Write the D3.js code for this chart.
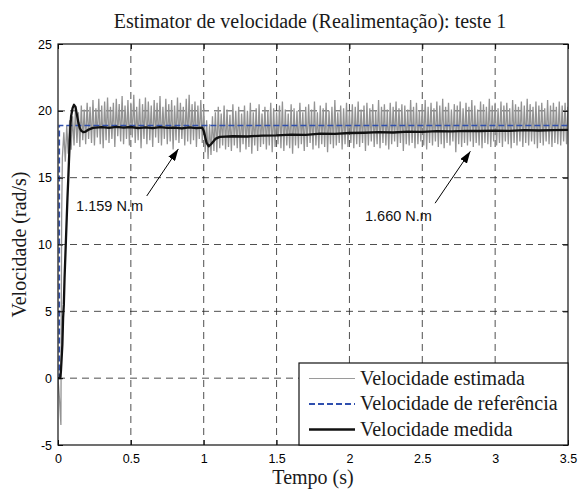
<!DOCTYPE html>
<html>
<head>
<meta charset="utf-8">
<script src="https://cdn.jsdelivr.net/npm/d3@7"></script>
<style>
  body { margin: 0; background: #fff; }
  .tick text { font-family: "Liberation Sans", Arial, sans-serif; font-size: 12.5px; fill: #000; }
  .serif { font-family: "Liberation Serif", "Times New Roman", serif; fill: #1a1a1a; }
</style>
</head>
<body>
<div id="vis"></div>
<script>
const FRAME_WIDTH = 580;
const FRAME_HEIGHT = 489;
const MARGINS = {left: 58, right: 12, top: 44, bottom: 44};

// axis ticks
const xTicks = [0, 0.5, 1, 1.5, 2, 2.5, 3, 3.5];
const yTicks = [-5, 0, 5, 10, 15, 20, 25];

// reference speed (step)
const refT = [0, 0.009, 0.009, 3.5];
const refV = [0, 0, 18.9, 18.9];

// measured speed
const medT = [0, 0.015, 0.02, 0.025, 0.03, 0.035, 0.04, 0.045, 0.05, 0.055, 0.06, 0.065, 0.07, 0.075, 0.08, 0.085,
  0.09, 0.1, 0.11, 0.12, 0.13, 0.14, 0.15, 0.16, 0.175, 0.19, 0.21, 0.24, 0.3, 0.35, 0.4, 0.45, 0.5, 0.55, 0.6, 0.65,
  0.7, 0.75, 0.8, 0.85, 0.9, 0.95, 0.99, 1.0, 1.02, 1.035, 1.05, 1.08, 1.11, 1.2, 1.3, 1.4, 1.5, 1.6, 1.7, 1.8, 1.9,
  2.0, 2.1, 2.2, 2.3, 2.4, 2.5, 2.6, 2.7, 2.8, 2.9, 3.0, 3.1, 3.2, 3.3, 3.4, 3.5];
const medV = [0, 0, 0.5, 1.5, 2.5, 4.5, 5.5, 7.5, 9, 10.5, 12, 13.5, 14.8, 16.2, 17.5, 18.8,
  19.6, 20.2, 20.45, 20.3, 19.7, 19.1, 18.7, 18.5, 18.4, 18.45, 18.6, 18.72, 18.78, 18.72, 18.8, 18.74, 18.79, 18.71, 18.76, 18.7,
  18.78, 18.72, 18.75, 18.68, 18.76, 18.7, 18.74, 18.5, 17.6, 17.35, 17.5, 17.9, 18.05, 18.1, 18.08, 18.15, 18.17, 18.22, 18.2, 18.3, 18.28,
  18.34, 18.36, 18.4, 18.38, 18.45, 18.43, 18.48, 18.46, 18.5, 18.49, 18.52, 18.5, 18.55, 18.53, 18.56, 18.57];

// estimated speed: start transient, then samples every 0.01 s from 0.03 s
const estStartT = [0, 0.01, 0.02, 0.025];
const estStartV = [0, -1.5, -3.5, 12];
const estT0 = 0.03;
const estDt = 0.01;
const estV = [
  16.5, 18.4, 16.2, 18.9, 16.8, 19.3, 17.1, 19.6, 17.4, 20.2, 17.6, 19.9, 17.3, 20.4, 17.8, 20.1, 17.5, 20.6, 17.9, 20.3,
  17.6, 20.8, 17.4, 20.2, 18.0, 20.9, 17.5, 20.4, 17.2, 20.7, 17.8, 21.0, 17.6, 20.3, 17.9, 20.6, 17.3, 20.9, 18.1, 20.5,
  17.7, 21.1, 17.5, 20.4, 17.9, 20.8, 17.4, 20.6, 18.0, 21.2, 17.6, 20.3, 17.8, 20.9, 17.2, 20.5, 17.9, 21.0, 17.5, 20.7,
  17.8, 20.4, 17.3, 20.8, 18.0, 20.6, 17.6, 21.1, 17.4, 20.3, 17.9, 20.9, 17.5, 20.5, 17.7, 20.8, 17.1, 20.4, 17.8, 21.0,
  17.6, 20.6, 17.9, 20.3, 17.4, 20.9, 17.7, 21.2, 17.5, 20.5, 17.8, 20.7, 17.3, 20.4, 17.9, 20.8, 17.6, 20.2, 16.9, 19.3,
  16.4, 19.0, 16.7, 19.6, 17.0, 19.9, 16.9, 20.3, 17.2, 19.8, 17.4, 20.4, 17.1, 20.1, 17.3, 19.7, 17.0, 20.5, 17.4, 20.0,
  17.2, 20.3, 16.9, 19.8, 17.5, 20.4, 17.1, 20.0, 17.3, 20.6, 16.8, 19.9, 17.4, 20.2, 17.0, 20.5, 17.3, 19.8, 17.5, 20.3,
  17.1, 20.0, 17.4, 20.6, 16.9, 20.2, 17.3, 19.9, 17.5, 20.4, 17.2, 20.7, 17.0, 20.1, 17.4, 19.8, 17.2, 20.5, 16.8, 20.2,
  17.4, 20.0, 17.2, 20.6, 17.5, 19.9, 17.0, 20.3, 17.3, 20.5, 17.6, 20.1, 17.1, 20.7, 17.4, 19.9, 17.2, 20.4, 17.5, 20.2,
  17.3, 20.6, 16.9, 20.0, 17.5, 20.3, 17.2, 20.8, 17.4, 19.9, 17.6, 20.4, 17.1, 20.2, 17.5, 20.6, 17.3, 20.0, 17.6, 20.5,
  17.2, 20.3, 17.5, 20.7, 17.3, 20.1, 17.6, 20.4, 17.0, 20.6, 17.4, 20.2, 17.7, 20.5, 17.3, 20.0, 17.5, 20.8, 17.2, 20.3,
  17.6, 20.5, 17.4, 20.1, 17.1, 20.6, 17.5, 20.3, 17.7, 20.7, 17.3, 20.2, 17.6, 20.5, 17.0, 20.4, 17.5, 20.1, 17.4, 20.8,
  17.6, 20.3, 17.2, 20.6, 17.5, 20.0, 17.7, 20.5, 17.4, 20.8, 17.1, 20.3, 17.6, 20.6, 17.4, 20.2, 17.7, 20.7, 17.3, 20.4,
  17.5, 20.9, 17.2, 20.3, 17.6, 20.6, 17.4, 20.1, 17.7, 20.5, 16.9, 20.4, 17.5, 20.7, 17.3, 20.2, 17.6, 20.6, 17.4, 20.3,
  17.7, 20.8, 17.3, 20.4, 17.6, 20.1, 17.4, 20.7, 17.2, 20.5, 17.6, 20.3, 17.5, 20.9, 17.3, 20.4, 17.7, 20.6, 17.4, 20.2,
  17.6, 20.7, 17.3, 20.4, 17.7, 20.6, 17.5, 20.2, 17.2, 20.8, 17.6, 20.5, 17.4, 20.3, 17.7, 20.7, 17.3, 20.4, 17.6, 20.9,
  17.4, 20.5, 17.7, 20.3, 17.5, 20.7, 17.2, 20.4, 17.6, 20.6, 17.4, 20.2, 17.7, 20.8, 17.5, 20.4, 17.3, 20.6, 17.6, 20.3,
  17.5, 20.7, 17.4, 20.4, 17.7, 20.6, 17.5, 20.3
];

// annotations (data coords): text position, arrow tail, arrow tip
const noteLabels = ["1.159 N.m", "1.660 N.m"];
const noteText = [[0.124, 12.5], [2.107, 11.75]];
const noteTail = [[0.609, 13.63], [2.588, 13.09]];
const noteTip = [[0.826, 17.15], [2.83, 16.97]];

const legendLabels = ["Velocidade estimada", "Velocidade de referência", "Velocidade medida"];

const VIS_LEFT = MARGINS.left;
const VIS_RIGHT = FRAME_WIDTH - MARGINS.right;
const VIS_TOP = MARGINS.top;
const VIS_BOTTOM = FRAME_HEIGHT - MARGINS.bottom;

const svg = d3.select("#vis").append("svg")
    .attr("width", FRAME_WIDTH)
    .attr("height", FRAME_HEIGHT);

const X_SCALE = d3.scaleLinear().domain([0, 3.5]).range([VIS_LEFT, VIS_RIGHT]);
const Y_SCALE = d3.scaleLinear().domain([-5, 25]).range([VIS_BOTTOM, VIS_TOP]);

svg.append("defs").append("clipPath").attr("id", "clip")
  .append("rect")
    .attr("x", VIS_LEFT).attr("y", VIS_TOP)
    .attr("width", VIS_RIGHT - VIS_LEFT).attr("height", VIS_BOTTOM - VIS_TOP);

// grid lines
const grid = svg.append("g").attr("stroke", "#222").attr("stroke-width", 0.8).attr("stroke-dasharray", "7,5");
grid.selectAll(".gx").data(xTicks.slice(1, -1)).enter().append("line")
    .attr("x1", d => X_SCALE(d)).attr("x2", d => X_SCALE(d))
    .attr("y1", VIS_TOP).attr("y2", VIS_BOTTOM);
grid.selectAll(".gy").data(yTicks.slice(1, -1)).enter().append("line")
    .attr("y1", d => Y_SCALE(d)).attr("y2", d => Y_SCALE(d))
    .attr("x1", VIS_LEFT).attr("x2", VIS_RIGHT);

// series
const estData = estStartT.map((t, i) => [t, estStartV[i]])
    .concat(estV.map((v, i) => [estT0 + i * estDt, v]));
const refData = refT.map((t, i) => [t, refV[i]]);
const medData = medT.map((t, i) => [t, medV[i]]);

const line = d3.line().x(d => X_SCALE(d[0])).y(d => Y_SCALE(d[1]));
const plot = svg.append("g").attr("clip-path", "url(#clip)");

plot.append("path").datum(estData)
    .attr("d", line).attr("fill", "none")
    .attr("stroke", "#939393").attr("stroke-width", 1.3);
plot.append("path").datum(refData)
    .attr("d", line).attr("fill", "none")
    .attr("stroke", "#2f4fae").attr("stroke-width", 1.6).attr("stroke-dasharray", "6,3");
plot.append("path").datum(medData)
    .attr("d", line).attr("fill", "none")
    .attr("stroke", "#111").attr("stroke-width", 2.3).attr("stroke-linejoin", "round");

// annotations
svg.append("defs").append("marker")
    .attr("id", "arrow").attr("viewBox", "0 0 12 8")
    .attr("refX", 12).attr("refY", 4)
    .attr("markerWidth", 12).attr("markerHeight", 8)
    .attr("markerUnits", "userSpaceOnUse").attr("orient", "auto")
  .append("path").attr("d", "M0,0L12,4L0,8Z").attr("fill", "#000");

noteLabels.forEach((lab, i) => {
    svg.append("line")
        .attr("x1", X_SCALE(noteTail[i][0])).attr("y1", Y_SCALE(noteTail[i][1]))
        .attr("x2", X_SCALE(noteTip[i][0])).attr("y2", Y_SCALE(noteTip[i][1]))
        .attr("stroke", "#000").attr("stroke-width", 1)
        .attr("marker-end", "url(#arrow)");
    svg.append("text")
        .attr("x", X_SCALE(noteText[i][0])).attr("y", Y_SCALE(noteText[i][1]))
        .attr("font-family", "Liberation Sans, Arial, sans-serif")
        .attr("font-size", "14.5px").attr("fill", "#111")
        .text(lab);
});

// axes (ticks inward on all four sides)
const fmt = d => String(d);
svg.append("g").attr("transform", "translate(0," + VIS_BOTTOM + ")")
    .call(d3.axisBottom(X_SCALE).tickValues(xTicks).tickFormat(fmt).tickSizeInner(-5).tickSizeOuter(0).tickPadding(9))
    .call(g => g.select(".domain").remove());
svg.append("g").attr("transform", "translate(0," + VIS_TOP + ")")
    .call(d3.axisTop(X_SCALE).tickValues(xTicks).tickFormat("").tickSizeInner(-5).tickSizeOuter(0))
    .call(g => g.select(".domain").remove());
svg.append("g").attr("transform", "translate(" + VIS_LEFT + ",0)")
    .call(d3.axisLeft(Y_SCALE).tickValues(yTicks).tickFormat(fmt).tickSizeInner(-5).tickSizeOuter(0).tickPadding(6))
    .call(g => g.select(".domain").remove());
svg.append("g").attr("transform", "translate(" + VIS_RIGHT + ",0)")
    .call(d3.axisRight(Y_SCALE).tickValues(yTicks).tickFormat("").tickSizeInner(-5).tickSizeOuter(0))
    .call(g => g.select(".domain").remove());

svg.append("rect")
    .attr("x", VIS_LEFT).attr("y", VIS_TOP)
    .attr("width", VIS_RIGHT - VIS_LEFT).attr("height", VIS_BOTTOM - VIS_TOP)
    .attr("fill", "none").attr("stroke", "#111").attr("stroke-width", 1.2);

// legend
const LEG = {x: 299, y: 363, w: VIS_RIGHT - 299, h: VIS_BOTTOM - 363};
const legend = svg.append("g");
legend.append("rect")
    .attr("x", LEG.x).attr("y", LEG.y).attr("width", LEG.w).attr("height", LEG.h)
    .attr("fill", "#fff").attr("stroke", "#111").attr("stroke-width", 1.2);
const legStyles = [
    {stroke: "#9a9a9a", width: 1, dash: null},
    {stroke: "#2f4fae", width: 2, dash: "6,3"},
    {stroke: "#111", width: 2.3, dash: null}
];
legendLabels.forEach((lab, i) => {
    const yy = LEG.y + 15.5 + i * 25.5;
    legend.append("line")
        .attr("x1", LEG.x + 10).attr("x2", LEG.x + 56)
        .attr("y1", yy).attr("y2", yy)
        .attr("stroke", legStyles[i].stroke).attr("stroke-width", legStyles[i].width)
        .attr("stroke-dasharray", legStyles[i].dash);
    legend.append("text").attr("class", "serif")
        .attr("x", LEG.x + 61).attr("y", yy + 6)
        .attr("font-size", "20px")
        .text(lab);
});

// title and labels
svg.append("text").attr("class", "serif")
    .attr("x", 310).attr("y", 28)
    .attr("text-anchor", "middle").attr("font-size", "20px")
    .text("Estimator de velocidade (Realimentação): teste 1");
svg.append("text").attr("class", "serif")
    .attr("x", (VIS_LEFT + VIS_RIGHT) / 2).attr("y", 484)
    .attr("text-anchor", "middle").attr("font-size", "20px")
    .text("Tempo (s)");
svg.append("text").attr("class", "serif")
    .attr("transform", "translate(26," + ((VIS_TOP + VIS_BOTTOM) / 2) + ") rotate(-90)")
    .attr("text-anchor", "middle").attr("font-size", "20px")
    .text("Velocidade (rad/s)");
</script>
</body>
</html>
